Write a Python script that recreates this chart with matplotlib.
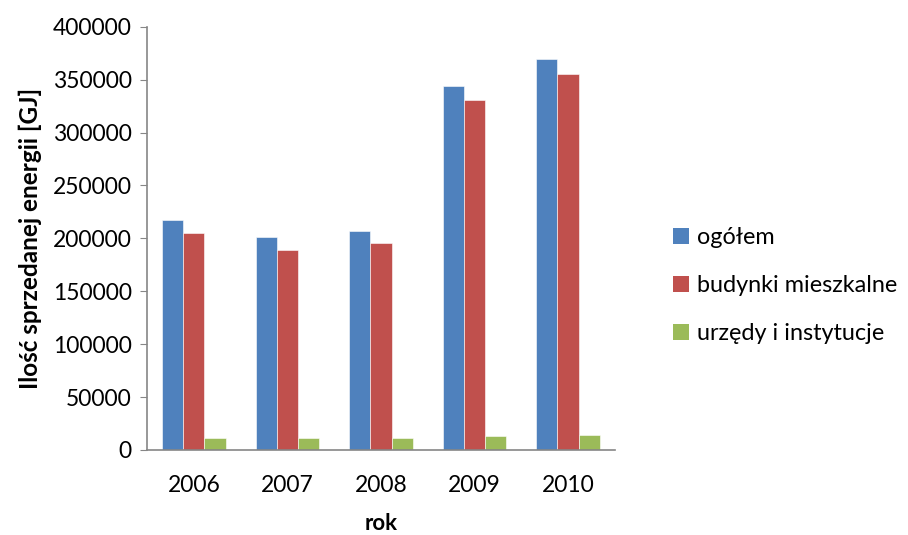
import numpy as np
import matplotlib.pyplot as plt
from matplotlib.patches import Patch

plt.rcParams['font.family'] = ['Lato', 'DejaVu Sans']

# Data
years = ['2006', '2007', '2008', '2009', '2010']
ogolem = [217000, 201300, 207300, 343700, 369200]
mieszkalne = [205000, 189300, 195300, 330800, 355000]
urzedy = [11300, 11300, 11300, 12900, 13800]

series_names = ['ogółem', 'budynki mieszkalne', 'urzędy i instytucje']
colors = ['#4F81BD', '#C0504D', '#9BBB59']

fig = plt.figure(figsize=(9.08, 5.35), dpi=100)
ax = fig.add_axes([0.162, 0.159, 0.515, 0.791])

x = np.arange(len(years))
w = 0.227
for i, (vals, c) in enumerate(zip([ogolem, mieszkalne, urzedy], colors)):
    ax.bar(x + (i - 1) * w, vals, width=w, color=c, edgecolor='white', linewidth=0.4)

ax.set_xlim(-0.5, len(years) - 0.5)
ax.set_ylim(0, 400000)
ax.set_yticks(range(0, 400001, 50000))
ax.set_xticks(x)
ax.set_xticklabels(years)
ax.tick_params(axis='y', labelsize=16.5, length=5, color='#868686', pad=6)
ax.tick_params(axis='x', labelsize=16.5, length=0, pad=18)

for s in ['top', 'right']:
    ax.spines[s].set_visible(False)
for s in ['left', 'bottom']:
    ax.spines[s].set_color('#868686')
    ax.spines[s].set_linewidth(1.2)

ax.set_ylabel('Ilość sprzedanej energii [GJ]', fontsize=17.5, fontweight='bold', labelpad=8)
ax.set_xlabel('rok', fontsize=16, fontweight='bold', labelpad=12)

handles = [Patch(facecolor=c, edgecolor='none') for c in colors]
fig.legend(handles, series_names, loc='center left', bbox_to_anchor=(0.718, 0.466),
           frameon=False, fontsize=16.8, handlelength=0.7, handleheight=0.7,
           handletextpad=0.35, labelspacing=1.15)

fig.savefig('out.png', dpi=100)
